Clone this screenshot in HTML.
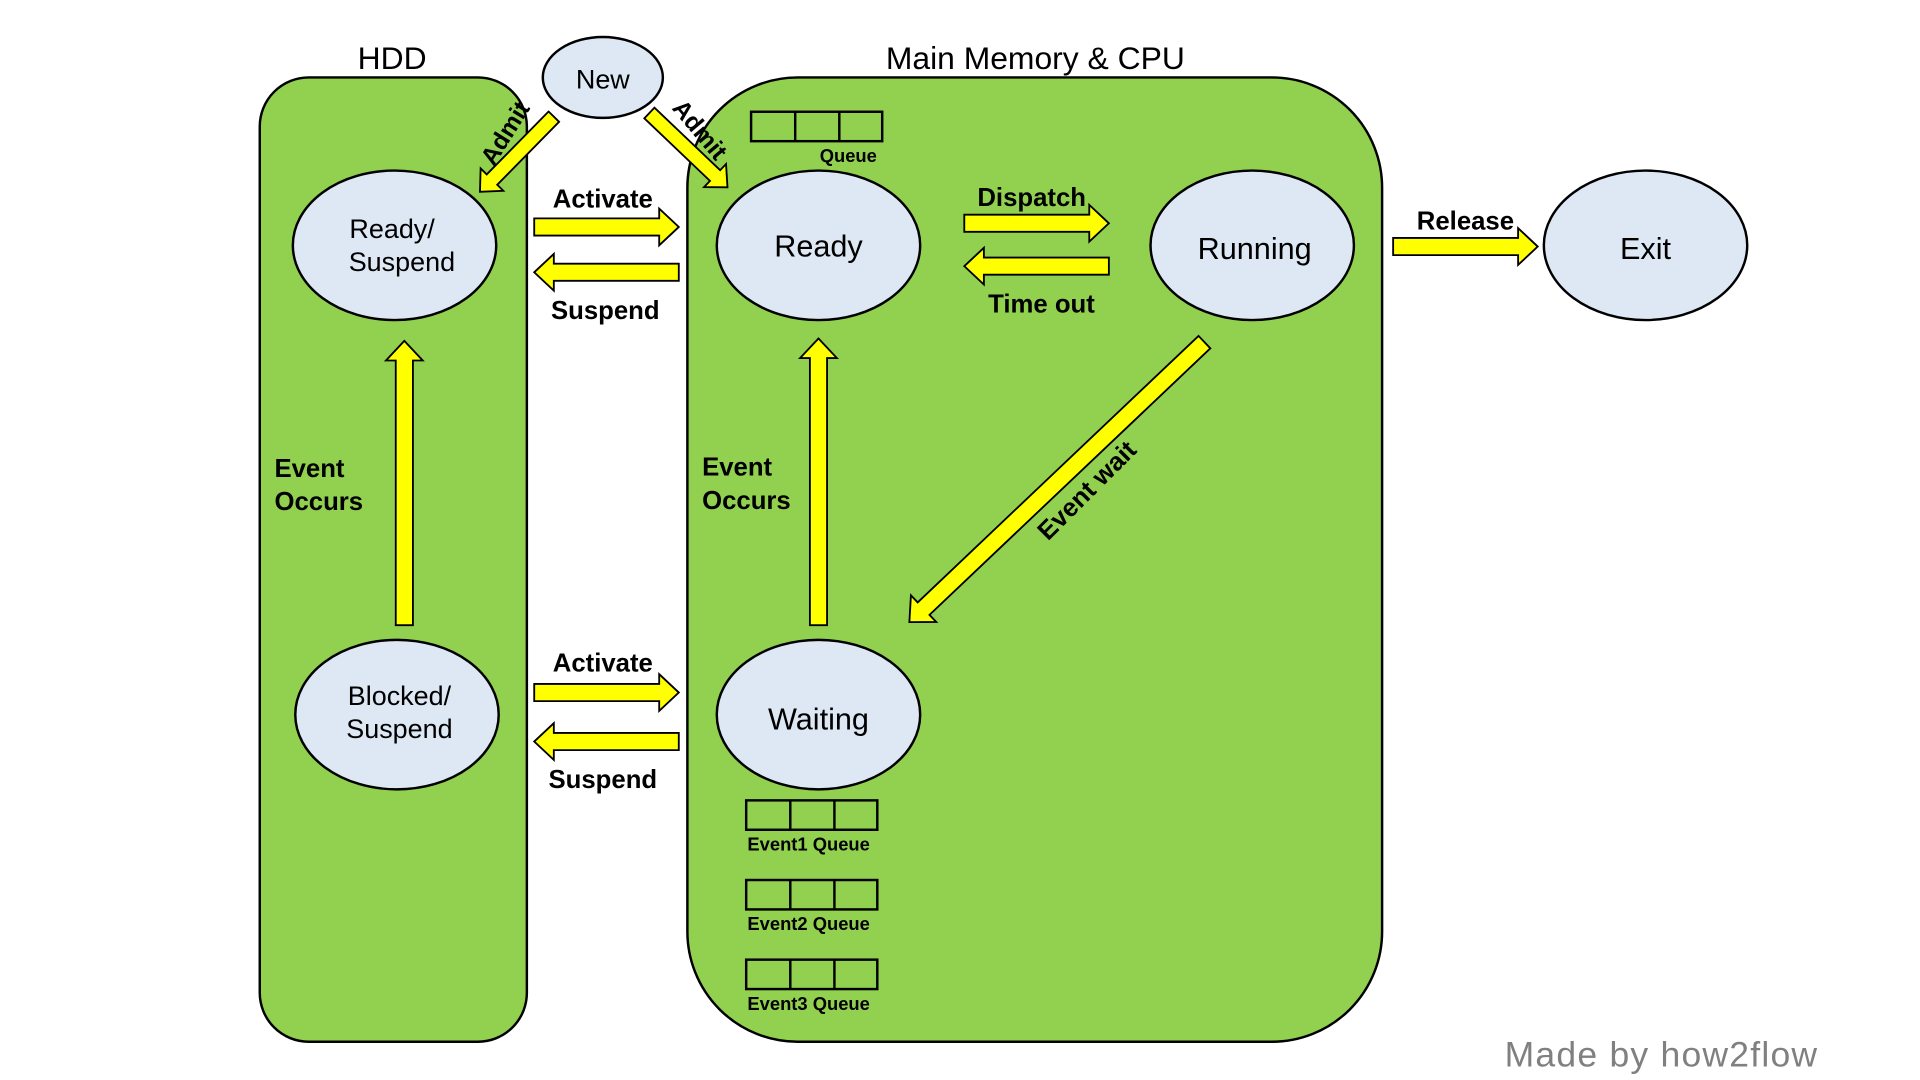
<!DOCTYPE html>
<html><head><meta charset="utf-8"><style>html,body{margin:0;padding:0;background:#fff;}svg{display:block}</style></head>
<body>
<svg width="1920" height="1080" viewBox="0 0 1567 881" xmlns="http://www.w3.org/2000/svg" font-family="Liberation Sans, sans-serif">
<rect x="212" y="63" width="218" height="787" rx="40" fill="#92d050" stroke="#000" stroke-width="2"/>
<rect x="561" y="63" width="567" height="787" rx="90" fill="#92d050" stroke="#000" stroke-width="2"/>
<text x="320" y="56" font-size="26" text-anchor="middle">HDD</text>
<text x="845" y="56" font-size="26" text-anchor="middle">Main Memory &amp; CPU</text>
<g fill="#dee8f4" stroke="#000" stroke-width="2">
<ellipse cx="492" cy="63" rx="49" ry="33"/>
<ellipse cx="322" cy="200" rx="83" ry="61"/>
<ellipse cx="668" cy="200" rx="83" ry="61"/>
<ellipse cx="1022" cy="200" rx="83" ry="61"/>
<ellipse cx="1343" cy="200" rx="83" ry="61"/>
<ellipse cx="324" cy="583" rx="83" ry="61"/>
<ellipse cx="668" cy="583" rx="83" ry="61"/>
</g>
<g font-size="22" text-anchor="middle">
<text x="492" y="72">New</text>
<text x="320" y="194">Ready/</text><text x="328" y="221">Suspend</text>
<text x="668" y="209" font-size="25">Ready</text>
<text x="1024" y="211" font-size="25">Running</text>
<text x="1343" y="211" font-size="25">Exit</text>
<text x="326" y="575">Blocked/</text><text x="326" y="602">Suspend</text>
<text x="668" y="595" font-size="25">Waiting</text>
</g>
<g fill="#ffff00" stroke="#000" stroke-width="1.5">
<polygon transform="translate(436,185)" points="0,-7 102,-7 102,-15 118,0 102,15 102,7 0,7"/>
<polygon transform="translate(554,222) rotate(180)" points="0,-7 102,-7 102,-15 118,0 102,15 102,7 0,7"/>
<polygon transform="translate(787,182)" points="0,-7 102,-7 102,-15 118,0 102,15 102,7 0,7"/>
<polygon transform="translate(905,217) rotate(180)" points="0,-7 102,-7 102,-15 118,0 102,15 102,7 0,7"/>
<polygon transform="translate(1137,201)" points="0,-7 102,-7 102,-15 118,0 102,15 102,7 0,7"/>
<polygon transform="translate(436,565)" points="0,-7 102,-7 102,-15 118,0 102,15 102,7 0,7"/>
<polygon transform="translate(554,605) rotate(180)" points="0,-7 102,-7 102,-15 118,0 102,15 102,7 0,7"/>
<polygon transform="translate(330,510) rotate(-90)" points="0,-7 216,-7 216,-15 232,0 216,15 216,7 0,7"/>
<polygon transform="translate(668,510) rotate(-90)" points="0,-7 218,-7 218,-15 234,0 218,15 218,7 0,7"/>
<polygon transform="translate(983,279) rotate(136.5)" points="0,-7 316,-7 316,-15 332,0 316,15 316,7 0,7"/>
<polygon transform="translate(452,95) rotate(134.5)" points="0,-6 72,-6 72,-13 86,0 72,13 72,6 0,6"/>
<polygon transform="translate(530,92) rotate(43.6)" points="0,-6 74,-6 74,-13 88,0 74,13 74,6 0,6"/>
</g>
<g font-size="21" font-weight="bold">
<text x="492" y="169" text-anchor="middle">Activate</text>
<text x="494" y="260" text-anchor="middle">Suspend</text>
<text x="842" y="168" text-anchor="middle">Dispatch</text>
<text x="850" y="255" text-anchor="middle">Time out</text>
<text x="1196" y="187" text-anchor="middle">Release</text>
<text x="492" y="548" text-anchor="middle">Activate</text>
<text x="492" y="643" text-anchor="middle">Suspend</text>
<text x="224" y="389">Event</text><text x="224" y="416">Occurs</text>
<text x="573" y="388">Event</text><text x="573" y="415">Occurs</text>
<text transform="translate(892,405) rotate(-45)" text-anchor="middle">Event wait</text>
<text transform="translate(418,112) rotate(-58)" text-anchor="middle" font-size="20">Admit</text>
<text transform="translate(566,110) rotate(50)" text-anchor="middle" font-size="20">Admit</text>
</g>
<g fill="none" stroke="#000" stroke-width="2">
<rect x="613" y="91" width="107" height="24"/><line x1="649" y1="91" x2="649" y2="115"/><line x1="685" y1="91" x2="685" y2="115"/>
<rect x="609" y="653" width="107" height="24"/><line x1="645" y1="653" x2="645" y2="677"/><line x1="681" y1="653" x2="681" y2="677"/>
<rect x="609" y="718" width="107" height="24"/><line x1="645" y1="718" x2="645" y2="742"/><line x1="681" y1="718" x2="681" y2="742"/>
<rect x="609" y="783" width="107" height="24"/><line x1="645" y1="783" x2="645" y2="807"/><line x1="681" y1="783" x2="681" y2="807"/>
</g>
<g font-size="15" font-weight="bold">
<text x="669" y="132">Queue</text>
<text x="610" y="694">Event1 Queue</text>
<text x="610" y="759">Event2 Queue</text>
<text x="610" y="824">Event3 Queue</text>
</g>
<text x="1228" y="870" font-size="29" fill="#808080" textLength="255">Made by how2flow</text>
</svg>
</body></html>
